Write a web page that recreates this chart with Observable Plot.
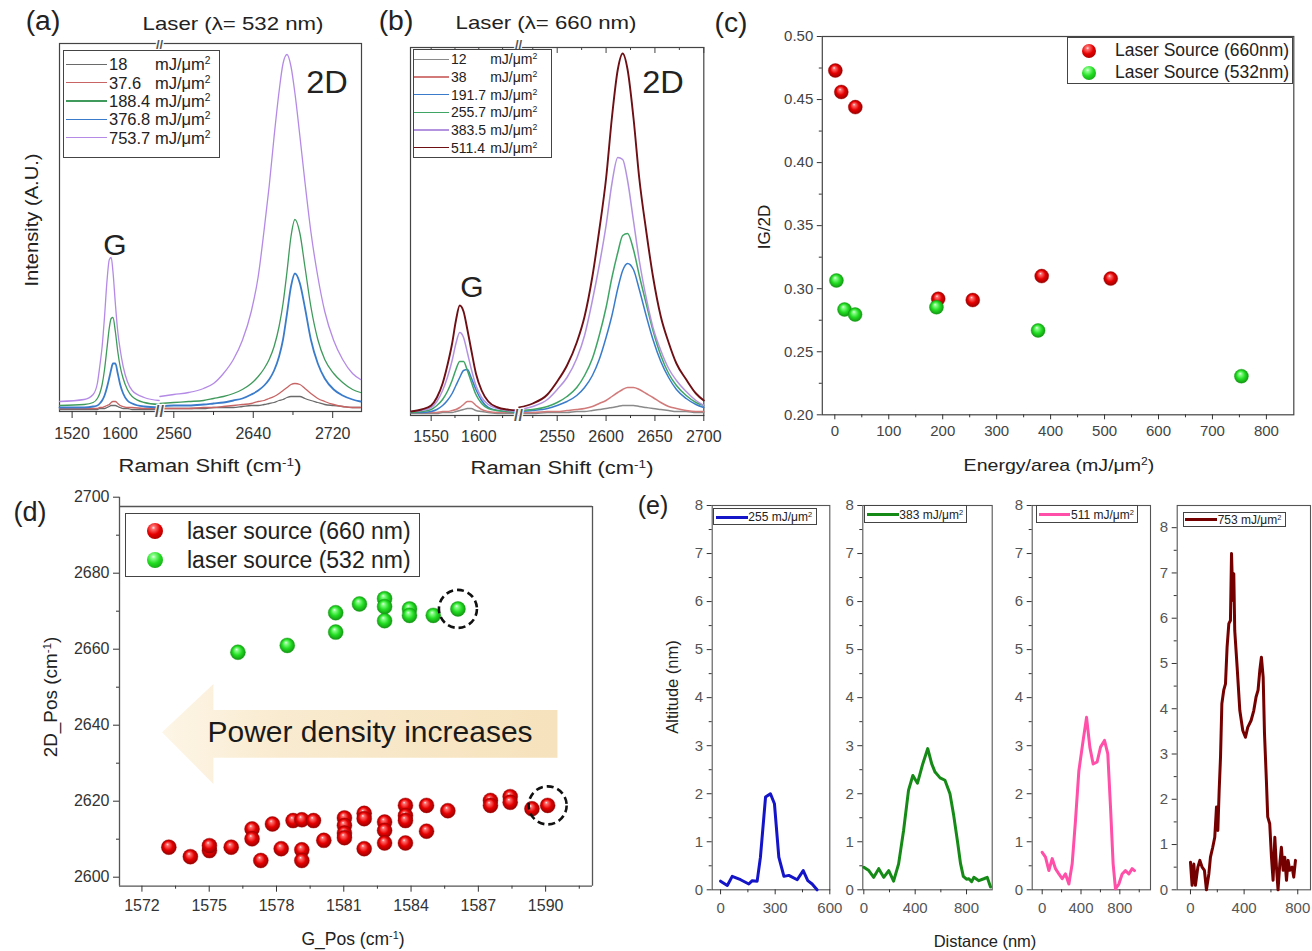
<!DOCTYPE html>
<html><head><meta charset="utf-8">
<script src="https://cdn.jsdelivr.net/npm/d3@7"></script>
<script src="https://cdn.jsdelivr.net/npm/@observablehq/plot@0.6"></script>
<style>
html,body{margin:0;padding:0;background:#fff;}
#root{position:relative;width:1312px;height:951px;overflow:hidden;background:#fff;font-family:'Liberation Sans',Arial,Helvetica,sans-serif;color:#222;}
.t{position:absolute;white-space:nowrap;line-height:1;}
.lg{position:absolute;border:1.3px solid #444;background:#fff;box-sizing:border-box;}
.lg .r{position:absolute;white-space:nowrap;line-height:1;transform:translateY(-50%);}
.lg .ln{position:absolute;}
.ball{position:absolute;border-radius:50%;transform:translate(-50%,-50%);}
sup{font-size:0.62em;vertical-align:0.55em;line-height:0;}
</style></head><body>
<svg width="0" height="0" style="position:absolute">
 <defs>
  <radialGradient id="ballRed" cx="0.5" cy="0.5" r="0.55" fx="0.4" fy="0.3">
   <stop offset="0" stop-color="#fff4f4"/><stop offset="0.16" stop-color="#ff6f6f"/><stop offset="0.55" stop-color="#e60000"/><stop offset="1" stop-color="#8a0000"/>
  </radialGradient>
  <radialGradient id="ballGreen" cx="0.5" cy="0.5" r="0.55" fx="0.4" fy="0.3">
   <stop offset="0" stop-color="#f4fff4"/><stop offset="0.16" stop-color="#8cff8c"/><stop offset="0.55" stop-color="#22dd22"/><stop offset="1" stop-color="#118a11"/>
  </radialGradient>
  <linearGradient id="arrowGrad" x1="0" y1="0" x2="1" y2="0">
   <stop offset="0" stop-color="#fdf5e6"/><stop offset="0.3" stop-color="#f9ebd0"/><stop offset="1" stop-color="#f6e2bc"/>
  </linearGradient>
 </defs>
</svg>
<div id="root"></div>
<script>
// ---------------- DATA ----------------
// (a) Laser 532 nm — G region
const aGx = [1499, 1540, 1555, 1562, 1566, 1570, 1574, 1578, 1582, 1585, 1588, 1592, 1596, 1600, 1605, 1612, 1620, 1640, 1665];
const aG_18    = [2, 2, 2, 2, 3, 3, 3, 4, 5, 6, 6, 6, 5, 4, 3, 3, 2, 2, 2];
const aG_37_6  = [3, 3, 3, 3, 4, 4, 5, 6, 7, 9, 10, 10, 8, 6, 5, 4, 4, 3, 3];
const aG_188_4 = [6, 7, 9, 13, 18, 27, 42, 63, 84, 93, 94, 80, 60, 45, 33, 22, 15, 9, 7];
const aG_376_8 = [4, 4, 5, 6, 8, 11, 16, 24, 34, 42, 48, 48, 38, 27, 18, 11, 8, 5, 4];
const aG_753_7 = [10, 12, 17, 28, 45, 65, 95, 130, 152, 154, 140, 108, 80, 62, 45, 30, 21, 14, 11];
// (a) 2D region
const aDx = [2546, 2560, 2575, 2590, 2600, 2610, 2620, 2629, 2638, 2645, 2651, 2656, 2661, 2666, 2670, 2674, 2678, 2682, 2687, 2692, 2698, 2705, 2712, 2721, 2730, 2740, 2748];
const aD_18    = [3, 3, 3, 3, 4, 4, 4, 5, 6, 6, 7, 8, 9, 11, 12, 14, 15, 15, 15, 13, 11, 9, 7, 6, 5, 4, 4];
const aD_37_6  = [3, 3, 3, 4, 4, 5, 6, 7, 8, 10, 11, 13, 15, 18, 21, 24, 27, 28, 27, 23, 18, 13, 10, 7, 5, 4, 4];
const aD_188_4 = [8, 9, 10, 11, 13, 15, 18, 22, 28, 35, 43, 52, 65, 85, 108, 140, 175, 192, 178, 145, 105, 72, 52, 38, 29, 22, 19];
const aD_376_8 = [5, 6, 6, 7, 8, 9, 11, 13, 17, 21, 26, 32, 41, 55, 72, 98, 125, 138, 128, 104, 72, 48, 33, 22, 16, 12, 10];
const aD_753_7 = [15, 17, 19, 23, 28, 38, 52, 71, 100, 135, 182, 225, 275, 320, 348, 357, 345, 318, 275, 230, 180, 135, 100, 71, 52, 38, 32];
const aNames  = ["18", "37.6", "188.4", "376.8", "753.7"];
const aColors = ["#6a6a6a", "#c86464", "#3f9a5c", "#3a7ccb", "#b48ae6"];
const aTicks  = [1520, 1600, 2560, 2640, 2720];
const aMinor  = [1560, 1640, 2600, 2680];

// (b) Laser 660 nm — G region
const bGx = [1529, 1540, 1550, 1556, 1562, 1567, 1572, 1576, 1580, 1584, 1588, 1592, 1597, 1603, 1610, 1620, 1630, 1641];
const bG_12    = [2, 2, 2, 2, 3, 3, 3, 4, 5, 6, 7, 7, 5, 4, 3, 2, 2, 2];
const bG_38    = [3, 3, 3, 3, 4, 4, 5, 6, 8, 11, 14, 14, 10, 6, 4, 3, 3, 3];
const bG_191_7 = [3, 3, 4, 6, 10, 15, 22, 30, 38, 45, 46, 38, 26, 15, 8, 5, 4, 3];
const bG_255_7 = [3, 4, 6, 10, 16, 24, 35, 46, 54, 54, 45, 34, 21, 12, 7, 5, 4, 3];
const bG_383_5 = [4, 5, 8, 14, 25, 38, 55, 72, 83, 78, 63, 47, 30, 18, 11, 7, 5, 4];
const bG_511_4 = [4, 6, 10, 18, 32, 50, 72, 95, 110, 104, 86, 66, 42, 25, 14, 8, 6, 5];
// (b) 2D region
const bDx = [2511, 2525, 2540, 2550, 2560, 2570, 2578, 2586, 2593, 2600, 2606, 2612, 2617, 2622, 2628, 2634, 2641, 2648, 2656, 2664, 2672, 2682, 2692, 2700];
const bD_12    = [2, 2, 3, 3, 3, 4, 4, 5, 6, 7, 8, 9, 10, 10, 10, 9, 8, 7, 6, 5, 4, 4, 3, 3];
const bD_38    = [3, 3, 4, 4, 5, 6, 7, 9, 12, 15, 19, 23, 26, 28, 28, 26, 22, 18, 13, 9, 7, 5, 4, 4];
const bD_191_7 = [4, 5, 7, 10, 14, 20, 28, 40, 56, 78, 100, 127, 145, 152, 146, 126, 100, 76, 54, 38, 26, 17, 11, 8];
const bD_255_7 = [5, 6, 9, 13, 19, 28, 40, 57, 80, 108, 138, 163, 180, 182, 166, 140, 112, 85, 60, 42, 30, 20, 13, 10];
const bD_383_5 = [6, 9, 16, 26, 38, 57, 80, 115, 150, 190, 232, 258, 256, 235, 195, 155, 118, 88, 65, 47, 35, 24, 15, 10];
const bD_511_4 = [8, 12, 21, 34, 50, 73, 99, 139, 185, 237, 298, 346, 362, 346, 298, 237, 185, 139, 99, 73, 52, 36, 22, 15];
const bNames  = ["12", "38", "191.7", "255.7", "383.5", "511.4"];
const bColors = ["#8a8a8a", "#d27a7a", "#3a7ccb", "#3fa564", "#b392e0", "#6e0f14"];
const bTicks  = [1550, 1600, 2550, 2600, 2650, 2700];
const bMinor  = [1575, 1625, 2525, 2575, 2625, 2675];

// (c) IG/2D vs energy/area
const c660_energy = [1, 12, 38, 191.7, 255.7, 383.5, 511.4];
const c660_ratio  = [0.473, 0.456, 0.444, 0.292, 0.291, 0.310, 0.308];
const c532_energy = [3, 18, 37.6, 188.4, 376.8, 753.7];
const c532_ratio  = [0.3065, 0.2835, 0.2795, 0.2853, 0.2669, 0.2306];
const cXTicks = [0, 100, 200, 300, 400, 500, 600, 700, 800];
const cYTicks = [0.20, 0.25, 0.30, 0.35, 0.40, 0.45, 0.50];

// (d) 2D position vs G position
const d660_G  = [1573.20, 1574.16, 1575.01, 1575.01, 1575.98, 1576.91, 1576.91, 1577.30, 1577.82, 1578.21, 1578.74, 1579.13, 1579.13, 1579.13, 1579.65, 1580.11, 1581.03, 1581.03, 1581.03, 1581.03, 1581.91, 1581.91, 1581.91, 1582.82, 1582.82, 1582.82, 1583.75, 1583.75, 1583.75, 1583.75, 1584.69, 1584.69, 1585.64, 1587.54, 1587.54, 1588.42, 1588.42, 1589.39, 1590.09];
const d660_2D = [2607.9, 2605.4, 2607.0, 2608.3, 2607.9, 2612.7, 2610.1, 2604.4, 2614.0, 2607.5, 2614.9, 2615.1, 2607.2, 2604.4, 2614.9, 2609.7, 2615.6, 2613.6, 2611.6, 2610.4, 2616.8, 2615.4, 2607.5, 2614.5, 2612.3, 2609.0, 2618.9, 2616.2, 2614.9, 2609.0, 2618.9, 2612.1, 2617.5, 2620.2, 2618.9, 2621.2, 2619.7, 2618.0, 2618.9];
const d532_G  = [1576.28, 1578.48, 1580.64, 1580.64, 1581.70, 1582.82, 1582.82, 1582.82, 1583.93, 1583.93, 1584.99, 1586.09];
const d532_2D = [2659.2, 2661.0, 2664.5, 2669.6, 2671.9, 2673.3, 2671.2, 2667.5, 2670.6, 2668.9, 2668.9, 2670.6];
const dCircled = [{g: 1586.09, p: 2670.6}, {g: 1590.09, p: 2618.9}];
const dArrow = [ // outline of the "power density increases" arrow in (G_Pos, 2D_Pos) units
  {g: 1572.92, lo: 2638.0, hi: 2638.0},
  {g: 1575.21, lo: 2624.4, hi: 2650.7},
  {g: 1575.21, lo: 2631.3, hi: 2643.9},
  {g: 1590.55, lo: 2631.3, hi: 2643.9}
];
const dXTicks = [1572, 1575, 1578, 1581, 1584, 1587, 1590];
const dXMinor = [1573.5, 1576.5, 1579.5, 1582.5, 1585.5, 1588.5, 1591.5];
const dYTicks = [2600, 2620, 2640, 2660, 2680, 2700];
const dYMinor = [2610, 2630, 2650, 2670, 2690];

// (e) AFM height profiles
const e255_dist = [0, 37, 64, 110, 155, 174, 201, 219, 247, 274, 296, 320, 348, 375, 421, 454, 479, 503, 530];
const e255_alt  = [0.18, 0.09, 0.28, 0.21, 0.12, 0.19, 0.18, 0.68, 1.93, 2.0, 1.79, 0.68, 0.28, 0.30, 0.21, 0.40, 0.19, 0.12, 0.0];
const e383_dist = [0, 39, 77, 116, 155, 194, 232, 271, 310, 348, 382, 418, 459, 498, 529, 555, 594, 632, 671, 700, 730, 753, 775, 800, 818, 840, 857, 896, 935, 961, 987];
const e383_alt  = [0.47, 0.40, 0.26, 0.44, 0.26, 0.40, 0.18, 0.54, 1.24, 2.07, 2.38, 2.22, 2.62, 2.94, 2.62, 2.45, 2.33, 2.28, 2.0, 1.55, 1.0, 0.55, 0.28, 0.22, 0.23, 0.17, 0.26, 0.19, 0.23, 0.26, 0.06];
const e511_dist = [0, 34, 69, 103, 137, 172, 206, 240, 275, 309, 343, 378, 422, 457, 491, 525, 566, 601, 642, 676, 704, 731, 755, 790, 824, 858, 893, 927, 951];
const e511_alt  = [0.78, 0.68, 0.40, 0.65, 0.44, 0.33, 0.23, 0.33, 0.12, 0.54, 1.44, 2.48, 3.11, 3.59, 2.97, 2.62, 2.66, 2.97, 3.11, 2.83, 1.72, 0.54, 0.02, 0.12, 0.33, 0.40, 0.33, 0.44, 0.40];
const e753_dist = [0, 12, 25, 37, 55, 70, 87, 104, 119, 137, 149, 166, 181, 194, 204, 214, 224, 234, 248, 261, 273, 286, 298, 306, 316, 323, 330, 348, 368, 390, 410, 427, 452, 472, 489, 504, 517, 529, 542, 552, 566, 576, 591, 604, 616, 629, 641, 653, 666, 678, 691, 703, 716, 728, 740, 758, 770, 783];
const e753_alt  = [0.61, 0.10, 0.57, 0.10, 0.50, 0.65, 0.50, 0.43, 0.0, 0.35, 0.72, 0.94, 1.16, 1.83, 1.31, 2.20, 2.93, 4.11, 4.41, 4.55, 5.36, 5.88, 5.95, 7.43, 6.39, 6.98, 5.73, 4.92, 3.96, 3.52, 3.37, 3.59, 3.74, 3.96, 4.26, 4.41, 4.85, 5.14, 4.70, 3.45, 2.42, 1.61, 1.46, 0.72, 0.21, 1.16, 0.50, 0.0, 0.57, 0.94, 0.43, 0.72, 0.21, 0.65, 0.43, 0.50, 0.28, 0.65];
const eLabels = ["255", "383", "511", "753"];
const eColors = ["#1414c8", "#168a16", "#ff4fa8", "#740000"];

// ---------------- RENDER ----------------
const FONT = "'Liberation Sans', Arial, Helvetica, sans-serif";
const root = document.getElementById("root");
const intFmt = d3.format("d");
const baseStyle = (fs) => ({background: "transparent", overflow: "visible", fontFamily: FONT, fontSize: fs + "px", color: "#333"});
function place(svg, x, y) { svg.style.position = "absolute"; svg.style.left = x + "px"; svg.style.top = y + "px"; svg.style.maxWidth = "none"; root.appendChild(svg); }
function txt(html, x, y, size, opt = {}) {
  const d = document.createElement("div");
  d.className = "t"; d.innerHTML = html;
  d.style.left = x + "px"; d.style.top = y + "px"; d.style.fontSize = size + "px";
  if (opt.color) d.style.color = opt.color;
  const a = opt.anchor || "middle";
  const tx = a === "middle" ? "-50%" : a === "end" ? "-100%" : "0";
  d.style.transform = `translate(${tx},-50%)` + (opt.rotate ? ` rotate(${opt.rotate}deg)` : "") + (opt.sx ? ` scaleX(${opt.sx})` : "");
  root.appendChild(d); return d;
}
const rowsOf = (xs, ys, s, seg) => xs.map((x, i) => ({x, y: ys[i], s, seg}));
const minorAxis = (fn, ticks, extra = {}) => fn({ticks, tickSize: 3, tickFormat: () => "", label: null, ...extra});
const breakMark = (xv, yv, dy, fs) => Plot.text(["//"], {x: () => xv, y: () => yv, dy, fontSize: fs, fontWeight: "bold", fill: "#555", stroke: "white", strokeWidth: 2.5});

// ---- (a) ----
const aGs = [aG_18, aG_37_6, aG_188_4, aG_376_8, aG_753_7];
const aDs = [aD_18, aD_37_6, aD_188_4, aD_376_8, aD_753_7];
const aRows = aNames.flatMap((n, k) => [...rowsOf(aGx, aGs[k], n, "G"), ...rowsOf(aDx, aDs[k], n, "D")]);
const aBreak = 1665.5;
place(Plot.plot({
  width: 380, height: 460, marginLeft: 59, marginRight: 19, marginTop: 43, marginBottom: 49,
  x: {type: "linear", domain: [1499, aBreak, 2545.6, 2749], range: [59, 159, 159, 361]},
  y: {domain: [0, 368], axis: null},
  color: {domain: aNames, range: aColors},
  style: baseStyle(16),
  marks: [
    Plot.frame({stroke: "#444", strokeWidth: 1.2}),
    Plot.line(aRows, {x: "x", y: "y", z: d => d.s + d.seg, stroke: "s", strokeWidth: d => d.s === "376.8" ? 1.8 : 1.3, curve: "monotone-x"}),
    Plot.axisX({ticks: aTicks, tickSize: 7, tickPadding: 9, tickFormat: intFmt, label: null, fill: "#333"}),
    minorAxis(Plot.axisX, aMinor, {tickSize: 4}),
    breakMark(aBreak, 0, 0, 16),
    breakMark(aBreak, 368, 1, 13)
  ]
}), 0, 0);

// ---- (b) ----
const bGs = [bG_12, bG_38, bG_191_7, bG_255_7, bG_383_5, bG_511_4];
const bDs = [bD_12, bD_38, bD_191_7, bD_255_7, bD_383_5, bD_511_4];
const bRows = bNames.flatMap((n, k) => [...rowsOf(bGx, bGs[k], n, "G"), ...rowsOf(bDx, bDs[k], n, "D")]);
const bBreak = 1641.7;
place(Plot.plot({
  width: 340, height: 460, marginLeft: 30, marginRight: 16.7, marginTop: 47, marginBottom: 45,
  x: {type: "linear", domain: [1528.3, bBreak, 2510.4, 2700], range: [30, 138, 138, 323.3]},
  y: {domain: [0, 368], axis: null},
  color: {domain: bNames, range: bColors},
  style: baseStyle(16),
  marks: [
    Plot.frame({stroke: "#444", strokeWidth: 1.2}),
    Plot.line(bRows, {x: "x", y: "y", z: d => d.s + d.seg, stroke: "s", strokeWidth: d => d.s === "511.4" ? 1.9 : 1.5, curve: "monotone-x"}),
    Plot.ruleX([...bTicks, ...bMinor], {y1: () => 368, y2: (d) => bTicks.includes(d) ? 362 : 365, stroke: "#444"}),
    Plot.axisX({ticks: bTicks, tickSize: 6, tickPadding: 9, tickFormat: intFmt, label: null, fill: "#333"}),
    minorAxis(Plot.axisX, bMinor),
    breakMark(bBreak, 0, 0, 16),
    breakMark(bBreak, 368, -3, 13)
  ]
}), 380, 0);

// ---- (c) ----
const c660 = c660_energy.map((e, i) => ({e, r: c660_ratio[i]}));
const c532 = c532_energy.map((e, i) => ({e, r: c532_ratio[i]}));
place(Plot.plot({
  width: 572, height: 480, marginLeft: 81.8, marginRight: 18.7, marginTop: 36, marginBottom: 65.7,
  x: {domain: [-23.2, 850.8]},
  y: {domain: [0.2, 0.5]},
  style: baseStyle(15),
  marks: [
    Plot.frame({stroke: "#444", strokeWidth: 1.2}),
    Plot.axisX({ticks: cXTicks, tickSize: 5, tickPadding: 6, tickFormat: intFmt, label: null, fill: "#444"}),
    minorAxis(Plot.axisX, [50, 150, 250, 350, 450, 550, 650, 750]),
    Plot.axisY({ticks: cYTicks, tickSize: 5, tickPadding: 4, tickFormat: d3.format(".2f"), label: null, fill: "#444"}),
    minorAxis(Plot.axisY, [0.225, 0.275, 0.325, 0.375, 0.425, 0.475]),
    Plot.dot(c660, {x: "e", y: "r", r: 7, fill: "url(#ballRed)", stroke: "#a00000", strokeWidth: 0.4}),
    Plot.dot(c532, {x: "e", y: "r", r: 7, fill: "url(#ballGreen)", stroke: "#12a012", strokeWidth: 0.4})
  ]
}), 740, 0);

// ---- (d) ----
const dYmin = 2597.63, dTop = 2697.55, dXmin = 1571.0, dXmax = 1592.09;
const d660 = d660_G.map((g, i) => ({g, p: d660_2D[i]}));
const d532 = d532_G.map((g, i) => ({g, p: d532_2D[i]}));
place(Plot.plot({
  width: 620, height: 481, marginLeft: 119, marginRight: 28, marginTop: 26.7, marginBottom: 65.3,
  x: {domain: [dXmin, dXmax]},
  y: {domain: [dYmin, 2700]},
  style: baseStyle(16),
  marks: [
    Plot.areaY(dArrow, {x: "g", y1: "lo", y2: "hi", fill: "url(#arrowGrad)", curve: "linear"}),
    Plot.text(["Power density increases"], {x: () => 1582.17, y: () => 2638.2, fontSize: 30, fill: "#1a1a1a"}),
    Plot.ruleY([dYmin, dTop], {stroke: "#555", strokeWidth: 1.3}),
    Plot.ruleX([dXmin], {y1: () => dYmin, y2: () => 2700, stroke: "#555", strokeWidth: 1.3}),
    Plot.ruleX([dXmax], {y1: () => dYmin, y2: () => dTop, stroke: "#555", strokeWidth: 1.3}),
    Plot.axisX({ticks: dXTicks, tickSize: 6, tickPadding: 7, tickFormat: intFmt, label: null, fill: "#333"}),
    minorAxis(Plot.axisX, dXMinor),
    Plot.axisY({ticks: dYTicks, tickSize: 6, tickPadding: 4, tickFormat: intFmt, label: null, fill: "#333"}),
    minorAxis(Plot.axisY, dYMinor),
    Plot.dot(d532, {x: "g", y: "p", r: 7.5, fill: "url(#ballGreen)", stroke: "#12a012", strokeWidth: 0.4}),
    Plot.dot(d660, {x: "g", y: "p", r: 7.5, fill: "url(#ballRed)", stroke: "#a00000", strokeWidth: 0.4}),
    Plot.dot(dCircled, {x: "g", y: "p", r: 19, fill: "none", stroke: "#111", strokeWidth: 2.6, strokeDasharray: "7,4"})
  ]
}), 0, 470);

// ---- (e) ----
const eSets = [
  {dist: e255_dist, alt: e255_alt, box: [680, 160], m: [31.7, 10.7], xd: [-46, 600], yd: [0, 8], xt: [0, 300, 600], xm: [150, 450]},
  {dist: e383_dist, alt: e383_alt, box: [835, 165], m: [27.3, 8.3], xd: [-8, 1000], yd: [0, 8], xt: [0, 400, 800], xm: [200, 600]},
  {dist: e511_dist, alt: e511_alt, box: [1000, 160], m: [31.7, 10], xd: [-103, 1116], yd: [0, 8], xt: [0, 400, 800], xm: [200, 600, 1000]},
  {dist: e753_dist, alt: e753_alt, box: [1145, 167], m: [31.7, 2], xd: [-99, 895], yd: [0, 8.49], xt: [0, 400, 800], xm: [200, 600]}
];
eSets.forEach((s, k) => {
  const rows = s.dist.map((x, i) => ({x, y: s.alt[i]}));
  place(Plot.plot({
    width: s.box[1], height: 430, marginLeft: s.m[0], marginRight: s.m[1], marginTop: 10, marginBottom: 35.7,
    x: {domain: s.xd}, y: {domain: s.yd},
    style: baseStyle(15),
    marks: [
      Plot.frame({stroke: "#555", strokeWidth: 1.1}),
      Plot.line(rows, {x: "x", y: "y", stroke: eColors[k], strokeWidth: 3, strokeLinejoin: "round"}),
      Plot.axisX({ticks: s.xt, tickSize: 5, tickPadding: 8, tickFormat: intFmt, label: null, fill: "#555"}),
      minorAxis(Plot.axisX, s.xm),
      Plot.axisY({ticks: [0, 1, 2, 3, 4, 5, 6, 7, 8], tickSize: 5, tickPadding: 4, tickFormat: intFmt, label: null, fill: "#555"}),
      minorAxis(Plot.axisY, [0.5, 1.5, 2.5, 3.5, 4.5, 5.5, 6.5, 7.5])
    ]
  }), s.box[0], 495);
});

// ---------------- TEXT & LEGENDS ----------------
const unit = "mJ/&mu;m<sup>2</sup>";
txt("(a)", 43, 21, 27, {sx: 1.05}); txt("(b)", 396, 21, 27, {sx: 1.05}); txt("(c)", 731, 23, 27, {sx: 1.05}); txt("(d)", 30, 512, 27); txt("(e)", 653, 505, 25);
txt("Laser (&lambda;= 532 nm)", 233, 24, 18.5, {sx: 1.2});
txt("Laser (&lambda;= 660 nm)", 546, 23, 18.5, {sx: 1.2});
txt("G", 115, 245, 30); txt("2D", 327, 82, 31, {sx: 1.05});
txt("G", 472, 287, 30); txt("2D", 663, 82, 31, {sx: 1.05});
txt("Intensity (A.U.)", 33, 220, 17.5, {rotate: -90, sx: 1.15});
txt("Raman Shift (cm<sup>-1</sup>)", 210, 466, 18, {sx: 1.22});
txt("Raman Shift (cm<sup>-1</sup>)", 562, 468, 18, {sx: 1.22});
txt("IG/2D", 764, 227, 17, {rotate: -90});
txt("Energy/area (" + unit + ")", 1059, 465, 17, {sx: 1.15});
txt("2D_Pos (cm<sup>-1</sup>)", 51, 697, 18, {rotate: -90, sx: 1.05});
txt("G_Pos (cm<sup>-1</sup>)", 353, 940, 17.5);
txt("Altitude (nm)", 672, 687, 16.5, {rotate: -90});
txt("Distance (nm)", 985, 941, 16.5);

function lineLegend(x, y, w, h, items, o) {
  const box = document.createElement("div"); box.className = "lg";
  Object.assign(box.style, {left: x + "px", top: y + "px", width: w + "px", height: h + "px", fontSize: o.fs + "px"});
  items.forEach((it, i) => {
    const cy = o.y0 + i * o.dy;
    const ln = document.createElement("div"); ln.className = "ln";
    Object.assign(ln.style, {left: o.lx0 + "px", width: (o.lx1 - o.lx0) + "px", top: (cy - o.lw / 2) + "px", height: o.lw + "px", background: it.c});
    box.appendChild(ln);
    const a = document.createElement("div"); a.className = "r"; a.style.left = o.nx + "px"; a.style.top = cy + "px"; a.innerHTML = it.n; box.appendChild(a);
    if (o.ux != null) { const b = document.createElement("div"); b.className = "r"; b.style.left = o.ux + "px"; b.style.top = cy + "px"; b.innerHTML = unit; box.appendChild(b); }
  });
  root.appendChild(box);
}
lineLegend(63, 50, 157, 108, aNames.map((n, i) => ({n, c: aColors[i]})), {fs: 16.5, y0: 13.3, dy: 18.35, lx0: 2, lx1: 43, lw: 1.4, nx: 45, ux: 91});
lineLegend(412.7, 49.3, 139, 109, bNames.map((n, i) => ({n, c: bColors[i]})), {fs: 14, y0: 9, dy: 17.7, lx0: 0.6, lx1: 35.6, lw: 1.4, nx: 37.3, ux: 76.5});
const eLeg = [[713.3, 508.3, 103.4, 16.7], [864.3, 505, 103, 18.3], [1036, 505, 102.3, 18.3], [1182.7, 511.7, 103.3, 15.6]];
eLeg.forEach((b, k) => lineLegend(b[0], b[1], b[2], b[3], [{n: eLabels[k] + " " + unit, c: eColors[k]}], {fs: 12, y0: b[3] / 2 - 0.5, dy: 0, lx0: 1.7, lx1: 33.4, lw: 3, nx: 34, ux: null}));

function ballLegend(x, y, w, h, items, o) {
  const box = document.createElement("div"); box.className = "lg";
  Object.assign(box.style, {left: x + "px", top: y + "px", width: w + "px", height: h + "px", fontSize: o.fs + "px"});
  items.forEach((it, i) => {
    const cy = o.y0 + i * o.dy;
    const b = document.createElement("div"); b.className = "ball";
    Object.assign(b.style, {left: o.bx + "px", top: cy + "px", width: 2 * o.r + "px", height: 2 * o.r + "px", background: it.bg});
    box.appendChild(b);
    const t = document.createElement("div"); t.className = "r"; t.style.left = o.tx + "px"; t.style.top = cy + "px"; t.style.color = "#222"; t.innerHTML = it.n; box.appendChild(t);
  });
  root.appendChild(box);
}
const redBG = "radial-gradient(circle at 40% 30%, #fff4f4 0%, #ff6f6f 12%, #e60000 45%, #8a0000 100%)";
const greenBG = "radial-gradient(circle at 40% 30%, #f4fff4 0%, #8cff8c 12%, #22dd22 45%, #118a11 100%)";
ballLegend(1067, 36.7, 225.5, 47.3, [{n: "Laser Source (660nm)", bg: redBG}, {n: "Laser Source (532nm)", bg: greenBG}], {fs: 17.5, y0: 13.3, dy: 21.7, bx: 21.4, r: 7, tx: 47});
ballLegend(124.6, 513.3, 295.4, 63.4, [{n: "laser source (660 nm)", bg: redBG}, {n: "laser source (532 nm)", bg: greenBG}], {fs: 23, y0: 16.7, dy: 29.3, bx: 29.6, r: 8, tx: 61.4});
</script>
</body></html>
